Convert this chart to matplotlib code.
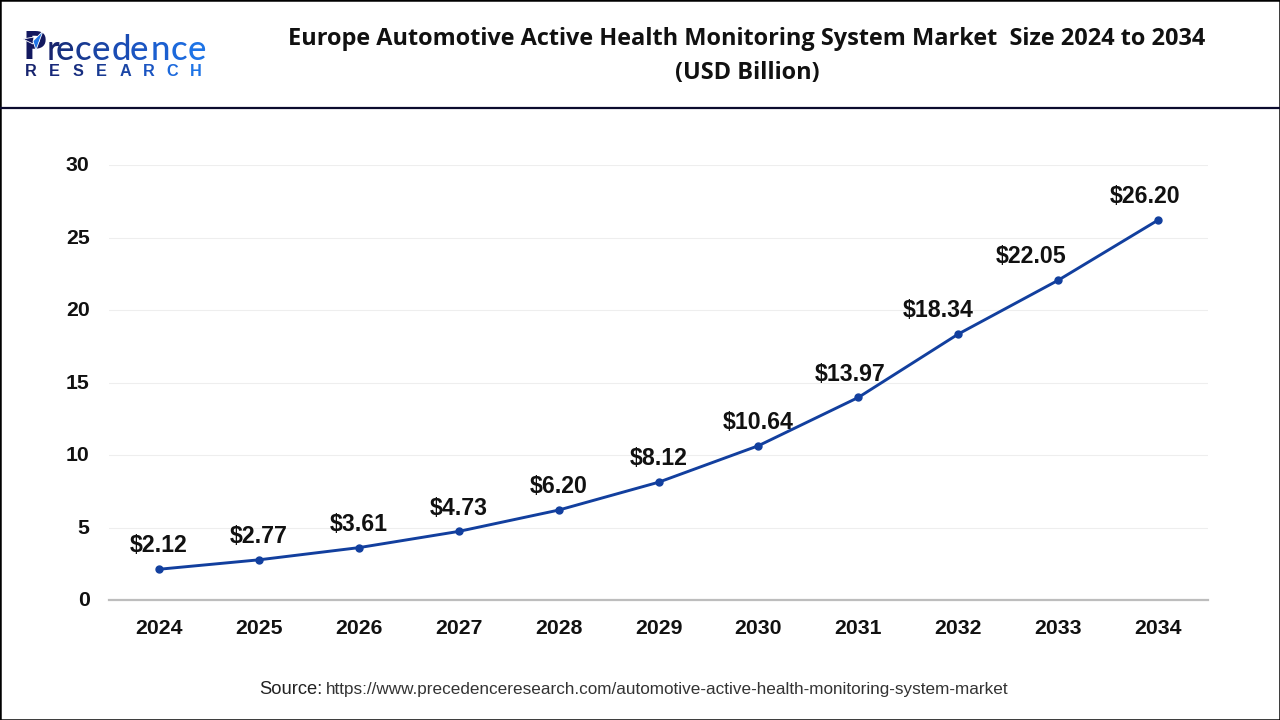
"""Europe automotive active health monitoring market chart."""
import matplotlib
matplotlib.use("Agg")
import matplotlib.pyplot as plt
from matplotlib.lines import Line2D
from matplotlib.patches import Polygon, Rectangle
from matplotlib.transforms import ScaledTranslation

W, H = 1280, 720

years = ["2024", "2025", "2026", "2027", "2028", "2029", "2030", "2031", "2032", "2033", "2034"]
values = [2.12, 2.77, 3.61, 4.73, 6.20, 8.12, 10.64, 13.97, 18.34, 22.05, 26.20]
value_labels = ["$2.12", "$2.77", "$3.61", "$4.73", "$6.20", "$8.12", "$10.64", "$13.97", "$18.34", "$22.05", "$26.20"]
y_ticks = [0, 5, 10, 15, 20, 25, 30]

title_lines = ["Europe Automotive Active Health Monitoring System Market  Size 2024 to 2034", "(USD Billion)"]
source_head = "Source:"
source_url = "https://www.precedenceresearch.com/automotive-active-health-monitoring-system-market"
logo_top = "recedence"
logo_bottom = "RESEARCH"

# the last labels sit left of their points, in pixels
label_shift = [0, 0, 0, 0, 0, 0, 0, -8, -20, -27, -13]

plt.rcParams["font.family"] = ["Liberation Sans", "DejaVu Sans"]


def fx(px):
    return px / W


def fy(px):
    return 1 - px / H


fig = plt.figure(figsize=(12.8, 7.2), dpi=100, facecolor="white")

# plot area in pixels: x 109-1208, y 165-600
ax = fig.add_axes([fx(109), fy(600), (1208 - 109) / W, (600 - 165) / H])
ax.set_xlim(-0.5, 10.5)
ax.set_ylim(0, 30)
ax.plot(range(len(years)), values, color="#123f9e", lw=2.1, marker="o", ms=5, clip_on=False, zorder=3)

for i, (v, lab) in enumerate(zip(values, value_labels)):
    ax.annotate(lab, (i, v), xytext=(label_shift[i] * 0.72, 16.8), textcoords="offset points",
                ha="center", va="center", fontsize=16.7, fontweight="bold", color="#111111")

ax.set_xticks(range(len(years)), years)
ax.set_yticks(y_ticks)
ax.tick_params(axis="both", length=0, labelsize=15.3, labelcolor="#111111")
ax.tick_params(axis="x", pad=14)
ax.tick_params(axis="y", pad=14)
for lab in ax.get_xticklabels():
    lab.set_fontweight("bold")
# y labels sit a pixel above their gridlines
nudge = ScaledTranslation(0, 1.2 / 100, fig.dpi_scale_trans)
for lab in ax.get_yticklabels():
    lab.set_fontweight("bold")
    lab.set_transform(lab.get_transform() + nudge)
ax.grid(axis="y", color="#eeeeee", lw=0.8)
ax.set_axisbelow(True)
for name in ["top", "right", "left"]:
    ax.spines[name].set_visible(False)
ax.spines["bottom"].set_color("#bdbdbd")
ax.spines["bottom"].set_linewidth(1.6)

# header
for i, line in enumerate(title_lines):
    fig.text(fx(747), fy(39 + 34.5 * i), line, ha="center", va="center", fontsize=16.9,
             fontweight="bold", color="#111111", family=["Open Sans", "DejaVu Sans"])

fig.add_artist(Line2D([0, 1], [fy(108), fy(108)], color="#0b0b2e", lw=1.6))
fig.add_artist(Rectangle((0, 0), 1, 1, transform=fig.transFigure, fill=False, ec="black", lw=1.8))

# logo
logo_colors = ["#17246e", "#17307f", "#183a92", "#1a45a5", "#1a4cb4", "#1b55c2", "#1b5fd0", "#1c69dc", "#1e74e6"]
logo_x = [46.5, 56, 75, 92, 112, 130, 151, 171, 188]
fig.text(fx(22), fy(59), "P", fontsize=28, fontweight="bold", color="#12185f", va="baseline",
         family=["Open Sans", "DejaVu Sans"])
for ch, col, px in zip(logo_top, logo_colors, logo_x):
    fig.text(fx(px), fy(60), ch, fontsize=25, fontweight="medium", color=col, va="baseline",
             family=["Lato", "DejaVu Sans"])
bottom_colors = ["#17246e", "#17287a", "#172e80", "#183a92", "#1a45a5", "#1b55c2", "#1c69dc", "#1e74e6"]
for i, (ch, col) in enumerate(zip(logo_bottom, bottom_colors)):
    fig.text(fx(31 + 23.6 * i), fy(71.5), ch, ha="center", va="center", fontsize=11.7, fontweight="bold", color=col)
fig.add_artist(Polygon([(fx(23), fy(39)), (fx(34), fy(37)), (fx(33), fy(44))],
                       transform=fig.transFigure, fc="#12185f", ec="white", lw=0.6, zorder=5))
fig.add_artist(Polygon([(fx(43), fy(31)), (fx(36), fy(50)), (fx(33), fy(41))],
                       transform=fig.transFigure, fc="#1e74e6", ec="white", lw=0.6, zorder=5))

# source
fig.text(fx(259), fy(694), source_head, ha="left", va="baseline", fontsize=13.2, color="#222222")
fig.text(fx(326), fy(694), source_url, ha="left", va="baseline", fontsize=12.33, color="#333333")

fig.savefig("out.png", dpi=100)
plt.close(fig)
